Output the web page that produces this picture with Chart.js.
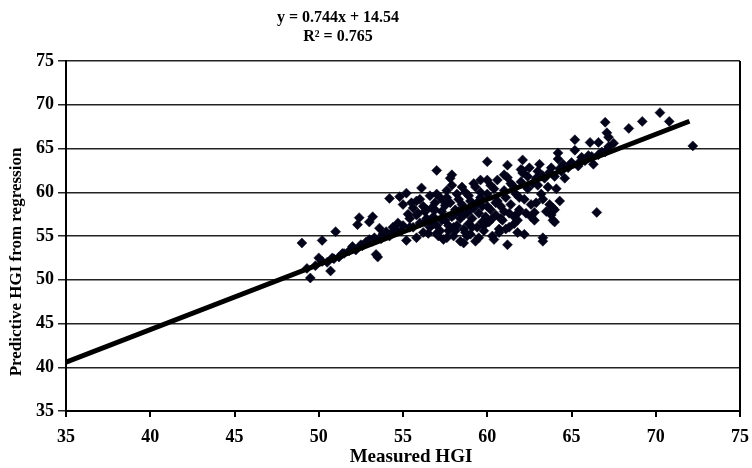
<!DOCTYPE html>
<html>
<head>
<meta charset="utf-8">
<script src="https://cdn.jsdelivr.net/npm/chart.js@4"></script>
<style>
  html, body { margin: 0; padding: 0; background: #fff; }
  #wrap { width: 752px; height: 468px; }
</style>
</head>
<body>
<div id="wrap"><canvas id="hgiChart" width="752" height="468"></canvas></div>
<script>
// measured HGI (x) and predicted HGI (y)
const measuredHGI = [
  49.0, 49.5, 49.3, 49.8, 50.0, 50.2, 50.5, 50.7, 50.9, 51.0, 51.2, 51.5, 51.8, 52.0, 52.2,
  52.3, 52.4, 52.5, 52.8, 53.0, 53.0, 53.2, 53.3, 53.5, 53.4, 53.6, 53.8, 54.0, 54.2, 54.2,
  54.4, 54.6, 54.7, 54.8, 55.0, 55.2, 55.2, 55.3, 55.5, 55.6, 55.8, 55.9, 56.0, 56.1, 56.2,
  56.4, 56.5, 56.6, 56.8, 56.9, 57.0, 57.0, 57.1, 57.2, 57.3, 57.4, 57.5, 57.5, 57.6, 57.7,
  57.8, 57.9, 57.9, 58.0, 58.0, 58.1, 58.2, 58.3, 58.4, 58.4, 58.5, 58.6, 58.6, 58.7, 58.8,
  58.9, 59.0, 59.0, 59.1, 59.2, 59.3, 59.4, 59.5, 59.5, 59.6, 59.7, 59.8, 59.9, 60.0, 60.0,
  60.0, 60.1, 60.2, 60.3, 60.4, 60.5, 60.6, 60.7, 60.8, 60.9, 61.0, 61.0, 61.1, 61.2, 61.2,
  61.2, 61.3, 61.4, 61.5, 61.6, 61.7, 61.8, 61.9, 62.0, 62.1, 62.1, 62.2, 62.3, 62.4, 62.5,
  62.6, 62.7, 62.8, 63.0, 63.0, 63.1, 63.2, 63.3, 63.4, 63.5, 63.6, 63.8, 64.0, 64.0, 64.0,
  64.2, 64.2, 64.4, 64.5, 64.6, 64.8, 65.0, 65.2, 65.2, 65.4, 65.6, 65.8, 66.0, 66.1, 66.3,
  66.5, 66.6, 66.8, 67.0, 67.2, 67.2, 67.5, 68.4, 69.2, 70.25, 70.8, 72.2,
  62.1, 63.9, 63.9, 62.8, 61.8, 67.1, 63.3, 57.0, 59.6,
  50.2, 50.8, 51.4, 52.6, 53.2, 53.7, 54.3, 54.9, 55.4, 56.3, 62.9, 63.3, 63.7, 64.3, 64.9,
  65.5, 66.2, 66.6, 67.0,
  55.6, 56.0, 56.3, 56.7, 57.0, 57.4, 57.8, 58.2, 58.5, 58.9, 59.2, 59.6, 60.2, 60.6, 61.0,
  61.4, 62.0, 62.4, 57.2, 57.6, 58.0, 58.8, 59.3, 60.4, 60.8, 61.6, 62.2, 62.6, 60.0, 59.4,
  58.6, 57.9, 56.6, 56.2, 55.8, 61.9, 62.9, 63.3, 63.7, 63.8, 64.1, 64.3,
  55.0, 55.4, 55.8, 56.4, 56.8, 57.3, 57.7, 58.3, 58.7, 59.1, 59.8, 60.3, 60.7, 61.3, 61.8,
  56.9, 57.6, 58.1, 59.0, 59.7, 60.5, 61.1
];
const predictedHGI = [
  54.2, 50.2, 51.3, 51.6, 52.5, 54.5, 52.0, 51.0, 52.4, 55.5, 52.6, 53.0, 53.3, 53.8, 53.4,
  56.3, 57.1, 54.0, 54.3, 56.6, 54.6, 57.2, 54.8, 52.6, 52.9, 55.9, 55.2, 55.5, 55.0, 59.3,
  56.0, 55.7, 56.5, 59.5, 56.2, 54.5, 59.9, 57.5, 58.8, 56.0, 59.0, 57.6, 56.5, 60.5, 58.4,
  57.0, 55.3, 59.6, 57.2, 58.8, 62.5, 56.2, 55.0, 59.4, 57.8, 54.6, 58.5, 56.8, 60.2, 55.6,
  61.6, 62.0, 60.8, 57.4, 55.0, 58.0, 56.2, 59.2, 54.4, 57.0, 58.6, 54.2, 55.8, 60.0, 57.6,
  56.4, 59.0, 55.2, 57.0, 58.2, 60.6, 56.0, 57.6, 54.8, 59.4, 58.4, 55.6, 57.2, 63.5, 61.4,
  59.8, 56.6, 58.0, 55.0, 60.4, 57.4, 59.0, 55.8, 58.4, 56.8, 60.2, 57.8, 59.4, 63.1, 61.7,
  54.0, 56.0, 58.6, 60.8, 57.2, 59.8, 55.4, 58.0, 61.2, 63.7, 62.2, 59.2, 57.6, 60.4, 62.8,
  58.6, 61.0, 56.8, 60.8, 62.4, 63.2, 59.8, 54.4, 61.6, 57.8, 60.6, 62.8, 58.0, 56.6, 61.8,
  64.5, 63.8, 62.4, 63.2, 61.6, 62.8, 63.4, 66.0, 64.8, 63.0, 64.0, 63.6, 64.2, 65.7, 63.2,
  57.7, 65.7, 64.6, 68.0, 66.3, 65.2, 65.6, 67.3, 68.1, 69.1, 68.1, 65.3,
  62.5, 58.2, 56.8, 57.7, 57.6, 66.8, 54.8, 55.3, 61.4,
  52.1, 52.5, 53.0, 53.9, 54.4, 54.7, 55.3, 55.6, 56.0, 56.6, 61.6, 61.9, 62.3, 62.7, 63.1,
  63.5, 64.1, 64.3, 64.6,
  58.2, 59.2, 57.8, 58.2, 59.8, 59.0, 58.8, 59.8, 60.6, 59.6, 61.0, 60.0, 60.8, 61.4, 62.0,
  61.0, 62.6, 61.8, 55.6, 54.8, 56.0, 55.0, 54.4, 54.6, 57.0, 56.4, 55.2, 57.2, 58.4, 58.8,
  57.4, 57.2, 56.0, 55.4, 54.8, 59.4, 58.8, 59.2, 58.6, 57.4, 60.4, 59.0,
  58.6, 57.0, 57.4, 58.0, 56.4, 56.8, 56.2, 57.8, 55.4, 56.0, 56.2, 57.0, 55.4, 57.6, 56.8,
  58.0, 59.4, 55.6, 58.0, 56.6, 58.8, 55.8
];

// trend line y = 0.744x + 14.54, end points
const trendX = [35, 72];
const trendY = [40.58, 68.11];

const axisTicks = [35, 40, 45, 50, 55, 60, 65, 70, 75];
const titleLines = ['y = 0.744x + 14.54', 'R\u00B2 = 0.765'];
const xTitle = 'Measured HGI';
const yTitle = 'Predictive HGI from regression';

const serif = "'Liberation Serif', 'DejaVu Serif', serif";

const scatterPoints = measuredHGI.map((x, i) => ({ x: x, y: predictedHGI[i] }));
const trendPoints = trendX.map((x, i) => ({ x: x, y: trendY[i] }));

// titles and right border
const decorPlugin = {
    id: 'decor',
    afterDraw(chart) {
        const ctx = chart.ctx;
        const a = chart.chartArea;
        ctx.save();
        ctx.strokeStyle = '#000';
        ctx.lineWidth = 2;
        ctx.beginPath();
        ctx.moveTo(a.right, a.top);
        ctx.lineTo(a.right, a.bottom);
        ctx.stroke();

        ctx.fillStyle = '#000';
        ctx.textAlign = 'center';
        ctx.textBaseline = 'middle';
        ctx.font = 'bold 16px ' + serif;
        ctx.fillText(titleLines[0], 338, 18);
        ctx.fillText(titleLines[1], 338, 37);

        ctx.font = 'bold 19px ' + serif;
        ctx.fillText(xTitle, 411, 457);

        ctx.translate(17, 262);
        ctx.rotate(-Math.PI / 2);
        ctx.font = 'bold 17px ' + serif;
        ctx.fillText(yTitle, 0, 0);
        ctx.restore();
    }
};

new Chart(document.getElementById('hgiChart'), {
    type: 'scatter',
    data: {
        datasets: [
            {
                label: 'HGI',
                data: scatterPoints,
                pointStyle: 'rectRot',
                pointRadius: 5,
                pointBackgroundColor: '#03031a',
                pointBorderColor: '#03031a',
                pointBorderWidth: 0.5,
                order: 2
            },
            {
                label: 'Linear',
                type: 'line',
                data: trendPoints,
                borderColor: '#000',
                borderWidth: 5,
                pointRadius: 0,
                fill: false,
                order: 1
            }
        ]
    },
    options: {
        responsive: false,
        animation: false,
        layout: { padding: { left: 30, right: 12, top: 61, bottom: 0 } },
        plugins: {
            legend: { display: false },
            tooltip: { enabled: false }
        },
        scales: {
            x: {
                type: 'linear',
                min: 35,
                max: 75,
                afterBuildTicks: s => { s.ticks = axisTicks.map(v => ({ value: v })); },
                afterFit: s => { s.height = 57; s.paddingLeft = 0; s.paddingRight = 0; },
                grid: { drawOnChartArea: false, color: '#000', lineWidth: 2, tickLength: 6 },
                border: { display: true, color: '#000', width: 2 },
                ticks: { color: '#000', padding: 10, font: { family: serif, size: 18, weight: 'bold' } }
            },
            y: {
                min: 35,
                max: 75,
                afterBuildTicks: s => { s.ticks = axisTicks.map(v => ({ value: v })); },
                afterFit: s => { s.width = 36; s.paddingTop = 0; s.paddingBottom = 0; },
                grid: { color: '#222', lineWidth: 1.5, tickLength: 8 },
                border: { display: true, color: '#000', width: 2 },
                ticks: { color: '#000', padding: 4, font: { family: serif, size: 18, weight: 'bold' } }
            }
        }
    },
    plugins: [decorPlugin]
});
</script>
</body>
</html>
